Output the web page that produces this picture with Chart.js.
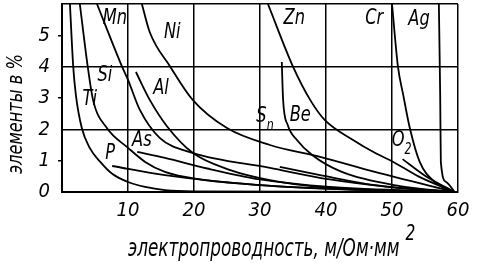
<!DOCTYPE html>
<html>
<head>
<meta charset="utf-8">
<script src="https://cdn.jsdelivr.net/npm/chart.js@4"></script>
<style>
  body { margin: 0; background: #fff; }
  canvas { display: block; }
</style>
</head>
<body>
<canvas id="chart" width="484" height="263"></canvas>
<script>
// curves: [conductivity, element %]
const ti = [[1.2, 6.0], [1.7, 4.0], [2.1, 3.1], [3.0, 2.04], [4.2, 1.41], [5.8, 0.96], [7.6, 0.58], [10, 0.32], [12.6, 0.16], [15.6, 0.06], [20, 0.02], [59.5, 0]];
const si = [[2.7, 6.0], [3.9, 4.0], [4.7, 2.94], [6.8, 2.04], [10, 1.41], [12.6, 0.96], [15.6, 0.64], [20.9, 0.4], [30, 0.22], [40.6, 0.1], [59.5, 0]];
const mn = [[5.3, 6.0], [9.1, 4.0], [10, 3.58], [11.8, 2.62], [14.8, 1.73], [19.8, 1.25], [31.5, 0.77], [40.6, 0.4], [50, 0.15], [59.5, 0]];
const al = [[11.2, 3.83], [13.3, 2.94], [15.9, 2.1], [19.8, 1.25], [25.5, 0.7], [31.5, 0.38], [39.1, 0.16], [59.5, 0]];
const ni = [[12.1, 6.0], [13.3, 5.1], [16.4, 4.0], [19.8, 2.94], [25, 2.04], [31.5, 1.5], [39.1, 1.12], [47.4, 0.64], [59.5, 0]];
const zn = [[31.2, 6.0], [35, 4.0], [37.6, 2.94], [39.8, 2.3], [44.1, 1.66], [47.4, 1.25], [50.2, 0.96], [54, 0.5], [59.5, 0]];
const be = [[33.3, 4.15], [33.5, 2.94], [34.2, 2.14], [35.6, 1.66], [37.9, 1.18], [42.4, 0.64], [51.2, 0.19], [59.5, 0]];
const cr = [[50, 6.0], [50.9, 4.0], [51.7, 3.1], [52.7, 2.04], [54.2, 0.96], [56.5, 0.32], [59.5, 0]];
const ag = [[57.1, 6.0], [57.3, 3.1], [57.4, 0.96], [58.2, 0.32], [59.5, 0]];
const p = [[7.6, 0.83], [15.6, 0.54], [30, 0.22], [45, 0.07], [59.5, 0]];
const as = [[11.4, 1.28], [15.6, 1.09], [22, 0.75], [30, 0.4], [40.6, 0.16], [59.5, 0]];
const sn = [[33, 0.8], [39.1, 0.54], [47.4, 0.22], [59.5, 0]];
const o2 = [[51.6, 1.05], [55, 0.52], [59.5, 0]];

const curves = [ti, si, mn, al, ni, zn, be, cr, ag, p, as, sn, o2];

// curve labels ("_" = subscript)
const labelNames = ["Mn", "Ni", "Zn", "Cr", "Ag", "Si", "Al", "Ti", "S_n", "Be", "As", "P", "O_2"];
const labelX = [8.0, 16.7, 35.2, 47.3, 54.1, 6.5, 15.0, 4.2, 30.6, 36.1, 12.1, 7.3, 51.3];
const labelY = [5.53, 5.1, 5.53, 5.56, 5.5, 3.74, 3.32, 2.97, 2.35, 2.46, 1.66, 1.25, 1.6];

const xTitle = "электропроводность, м/Ом·мм";
const xTitleSup = "2";
const yTitle = "элементы в %";

const FAMILY = "'DejaVu Sans Condensed', 'DejaVu Sans', sans-serif";
const tickFont = { family: FAMILY, size: 20, style: "italic" };
const NARROW = 0.82; // squeeze text to look like drafting lettering

const textPlugin = {
    id: "curveText",
    afterDraw(chart) {
        const { ctx, scales } = chart;
        ctx.save();
        ctx.fillStyle = "#000";
        labelNames.forEach((name, i) => {
            const px = scales.x.getPixelForValue(labelX[i]);
            const py = scales.y.getPixelForValue(labelY[i]);
            const [main, sub] = name.split("_");
            ctx.save();
            ctx.translate(px, py);
            ctx.scale(NARROW, 1);
            ctx.textBaseline = "middle";
            ctx.font = "italic 22px " + FAMILY;
            if (!sub) {
                ctx.textAlign = "center";
                ctx.fillText(main, 0, 0);
            } else {
                const w = ctx.measureText(main).width;
                ctx.textAlign = "left";
                ctx.fillText(main, -w / 2 - 3, -2);
                ctx.font = "italic 15px " + FAMILY;
                ctx.fillText(sub, w / 2 - 3, 8);
            }
            ctx.restore();
        });

        // x title with superscript
        ctx.save();
        ctx.translate(128, 256);
        ctx.scale(0.78, 1);
        ctx.font = "italic 24px " + FAMILY;
        ctx.textAlign = "left";
        ctx.textBaseline = "alphabetic";
        ctx.fillText(xTitle, 0, 0);
        const tw = ctx.measureText(xTitle).width;
        ctx.font = "italic 22px " + FAMILY;
        ctx.fillText(xTitleSup, tw + 8, -16);
        ctx.restore();

        // y title
        ctx.save();
        ctx.translate(16, 114);
        ctx.rotate(-Math.PI / 2);
        ctx.scale(NARROW, 1);
        ctx.font = "italic 22px " + FAMILY;
        ctx.textAlign = "center";
        ctx.textBaseline = "middle";
        ctx.fillText(yTitle, 0, 0);
        ctx.restore();
        ctx.restore();
    }
};

new Chart(document.getElementById("chart"), {
    type: "scatter",
    data: {
        datasets: curves.map((c) => ({
            data: c.map(([x, y]) => ({ x, y })),
            showLine: true,
            borderColor: "#000",
            borderWidth: 1.8,
            pointRadius: 0,
            cubicInterpolationMode: "monotone",
            fill: false
        }))
    },
    options: {
        responsive: false,
        animation: false,
        devicePixelRatio: 1,
        layout: { padding: { top: 4, right: 26, left: 0, bottom: 0 } },
        plugins: { legend: { display: false }, tooltip: { enabled: false } },
        scales: {
            x: {
                type: "linear",
                min: 0,
                max: 60,
                ticks: {
                    stepSize: 10,
                    callback: (v) => (v === 0 ? "" : v),
                    font: tickFont,
                    color: "#000",
                    padding: 7,
                    maxRotation: 0
                },
                grid: {
                    color: (c) => (c.tick && c.tick.value > 0 ? "#000" : "rgba(0,0,0,0)"),
                    lineWidth: 1.5,
                    drawTicks: false
                },
                border: { color: "#000", width: 2 },
                afterFit(s) {
                    s.height = 71;
                    s.paddingLeft = 0;
                    s.paddingRight = 0;
                }
            },
            y: {
                min: 0,
                max: 6,
                ticks: {
                    stepSize: 1,
                    callback: (v) => (v === 6 ? "" : v),
                    font: tickFont,
                    color: "#000",
                    padding: 8
                },
                grid: {
                    color: (c) => (c.tick && [2, 4, 6].includes(c.tick.value) ? "#000" : "rgba(0,0,0,0)"),
                    lineWidth: 1.5,
                    tickLength: 4,
                    tickColor: (c) => (c.tick && c.tick.value % 2 === 1 ? "#000" : "rgba(0,0,0,0)")
                },
                border: { color: "#000", width: 2 },
                afterFit(s) {
                    s.width = 62;
                    s.paddingTop = 0;
                    s.paddingBottom = 0;
                }
            }
        }
    },
    plugins: [textPlugin]
});
</script>
</body>
</html>
